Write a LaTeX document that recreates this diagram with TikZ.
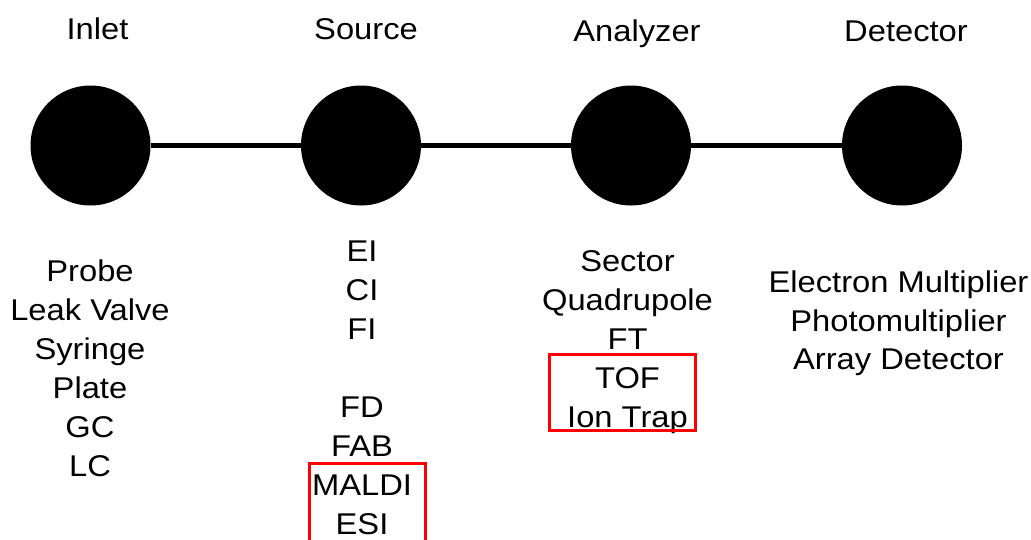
\documentclass[tikz,border=0pt]{standalone}
\usepackage{fontspec}
\setmainfont{Liberation Sans}[FakeStretch=1.09]
\begin{document}
\begin{tikzpicture}[x=1pt,y=-1pt,
  stage/.style={circle,fill=black,minimum size=120pt,inner sep=0pt},
  link/.style={line width=4.3pt},
  lbl/.style={anchor=base,inner sep=0pt,font=\fontsize{30}{36}\selectfont},
  hilite/.style={draw=red,line width=3pt}]
\useasboundingbox (0,0) rectangle (1031,539);
\clip (0,0) rectangle (1031,539);

% the four stages of the instrument
\node[stage] (inlet)    at (90.5,145.5) {};
\node[stage] (source)   at (361,145.5) {};
\node[stage] (analyzer) at (631,145.5) {};
\node[stage] (detector) at (902,145.5) {};
\draw[link] (inlet) -- (source);
\draw[link] (source) -- (analyzer);
\draw[link] (analyzer) -- (detector);

% stage titles
\node[lbl] (t-inlet)    at (97.5,39) {Inlet};
\node[lbl] (t-source)   at (366,39) {Source};
\node[lbl] (t-analyzer) at (637,41) {Analyzer};
\node[lbl] (t-detector) at (906,41) {Detector};

% options for each stage
\foreach \txt [count=\i] in {Probe,Leak Valve,Syringe,Plate,GC,LC}
  \node[lbl] (inl-\i) at (90,{281+39*(\i-1)}) {\txt};
\foreach \txt/\yy [count=\i] in {EI/261,CI/300,FI/339,FD/417,FAB/456,MALDI/495,ESI/534}
  \node[lbl] (src-\i) at (362,\yy) {\txt};
\foreach \txt [count=\i] in {Sector,Quadrupole,FT,TOF,Ion Trap}
  \node[lbl] (ana-\i) at (627.5,{271.5+38.9*(\i-1)}) {\txt};
\foreach \txt [count=\i] in {Electron Multiplier,Photomultiplier,Array Detector}
  \node[lbl] (det-\i) at (898.5,{292.5+38.7*(\i-1)}) {\txt};

% highlighted techniques
\draw[hilite] (309.5,463.5) rectangle (425.5,560);
\draw[hilite] (549.5,354.5) rectangle (695.5,430.5);
\end{tikzpicture}
\end{document}
